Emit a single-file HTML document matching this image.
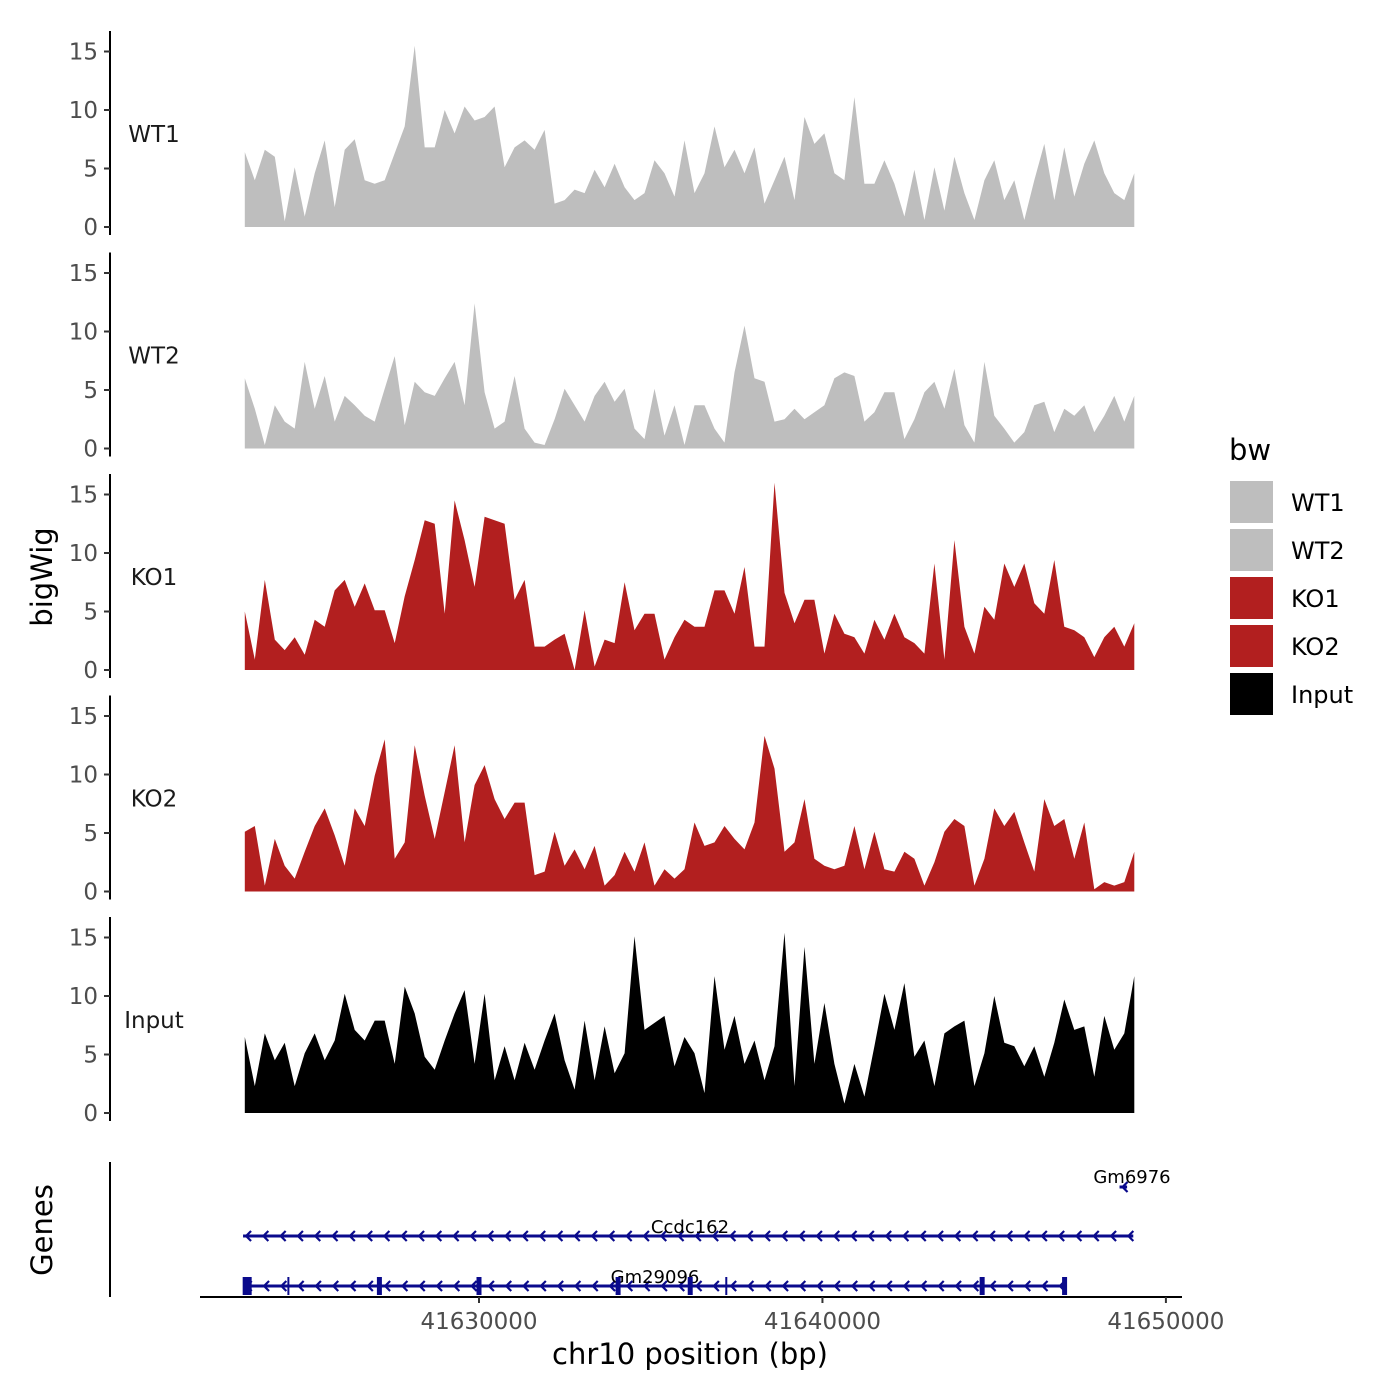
<!DOCTYPE html>
<html><head><meta charset="utf-8"><style>
html,body{margin:0;padding:0;background:#fff;}
svg{display:block;font-family:"DejaVu Sans","Liberation Sans",sans-serif;}
</style></head><body>
<svg id="chart" width="1400" height="1400" viewBox="0 0 1400 1400" xmlns="http://www.w3.org/2000/svg">
<rect width="1400" height="1400" fill="#fff"/>
<g id="tracks"></g>
<g id="genes"></g>
<text transform="translate(52,577) rotate(-90)" text-anchor="middle" font-size="29" fill="#000">bigWig</text>
<text transform="translate(52,1230) rotate(-90)" text-anchor="middle" font-size="29" fill="#000">Genes</text>
<text x="690" y="1364" text-anchor="middle" font-size="29" fill="#000">chr10 position (bp)</text>
<g>
<text x="1229" y="460" font-size="29" fill="#000">bw</text>
<rect x="1230" y="481" width="43" height="42" fill="#bebebe"/>
<text x="1291" y="511" font-size="24">WT1</text>
<rect x="1230" y="529" width="43" height="42" fill="#bebebe"/>
<text x="1291" y="559" font-size="24">WT2</text>
<rect x="1230" y="577" width="43" height="42" fill="#b21f1f"/>
<text x="1291" y="607" font-size="24">KO1</text>
<rect x="1230" y="625" width="43" height="42" fill="#b21f1f"/>
<text x="1291" y="655" font-size="24">KO2</text>
<rect x="1230" y="673" width="43" height="42" fill="#000"/>
<text x="1291" y="703" font-size="24">Input</text>
</g>
</svg>
<script>
const binStart = 41623180;
const binSize = 291;
const trackNames = ["WT1","WT2","KO1","KO2","Input"];
const trackColors = ["#bebebe","#bebebe","#b21f1f","#b21f1f","#000000"];
const yTicks = [0,5,10,15];
const xTicks = [41630000,41640000,41650000];
const wt1 = [6.4,4.0,6.6,6.0,0.5,5.1,0.9,4.6,7.4,1.7,6.6,7.5,4.0,3.7,4.0,6.3,8.6,15.5,6.8,6.8,10,8,10.3,9.1,9.4,10.3,5.1,6.8,7.4,6.6,8.3,2.0,2.3,3.2,2.9,4.9,3.4,5.4,3.4,2.3,2.9,5.7,4.6,2.6,7.4,2.9,4.6,8.6,5.1,6.6,4.6,6.8,2.0,4.0,6.0,2.3,9.4,7.1,8.0,4.6,4.0,11.1,3.7,3.7,5.7,3.7,0.9,4.9,0.6,5.1,1.4,6.0,2.9,0.6,4.0,5.7,2.3,4.0,0.6,4.0,7.1,2.3,6.8,2.6,5.4,7.4,4.6,2.9,2.3,4.6];
const wt2 = [6.0,3.4,0.3,3.7,2.3,1.7,7.4,3.4,6.2,2.3,4.5,3.7,2.8,2.3,5.1,7.9,2.0,5.7,4.8,4.5,6.0,7.4,3.7,12.4,4.8,1.7,2.3,6.2,1.7,0.5,0.3,2.5,5.1,3.7,2.3,4.5,5.7,4.0,5.1,1.7,0.8,5.1,1.1,3.7,0.3,3.7,3.7,1.7,0.5,6.5,10.5,6.0,5.7,2.3,2.5,3.4,2.5,3.1,3.7,6.0,6.5,6.2,2.3,3.1,4.8,4.8,0.8,2.5,4.8,5.7,3.4,6.8,2.0,0.5,7.4,2.8,1.7,0.5,1.4,3.7,4.0,1.4,3.4,2.8,3.7,1.4,2.8,4.5,2.3,4.5];
const ko1 = [5.0,0.9,7.7,2.6,1.7,2.8,1.3,4.3,3.7,6.8,7.7,5.4,7.4,5.1,5.1,2.3,6.3,9.4,12.8,12.5,4.8,14.5,11.1,7.1,13.1,12.8,12.5,6.0,7.7,2.0,2.0,2.6,3.1,0,5.1,0.3,2.6,2.3,7.5,3.4,4.8,4.8,0.9,2.8,4.3,3.7,3.7,6.8,6.8,4.8,8.8,2.0,2.0,16,6.6,4.0,6.0,6.0,1.4,4.8,3.1,2.8,1.4,4.3,2.6,4.8,2.8,2.3,1.4,9.1,0.9,11.1,3.7,1.4,5.4,4.3,9.1,7.1,9.1,5.7,4.8,9.4,3.7,3.4,2.8,1.1,2.8,3.7,2.0,4.0];
const ko2 = [5.1,5.6,0.5,4.5,2.2,1.1,3.4,5.6,7.1,4.8,2.2,7.1,5.6,9.9,13,2.8,4.2,12.5,8.2,4.5,8.5,12.5,4.2,9.1,10.8,7.9,6.2,7.6,7.6,1.4,1.7,5.1,2.2,3.6,1.9,3.9,0.5,1.4,3.4,1.7,4.2,0.5,1.9,1.1,1.9,5.9,3.9,4.2,5.6,4.5,3.6,5.9,13.3,10.5,3.4,4.2,7.9,2.8,2.2,1.9,2.2,5.6,1.9,5.1,1.9,1.7,3.4,2.8,0.5,2.5,5.1,6.2,5.6,0.5,2.8,7.1,5.6,6.8,4.2,1.7,7.9,5.6,6.2,2.8,5.9,0.2,0.8,0.5,0.8,3.4];
const input = [6.5,2.3,6.8,4.5,6.0,2.3,5.1,6.8,4.5,6.2,10.2,7.1,6.2,7.9,7.9,4.2,10.8,8.5,4.8,3.7,6.2,8.5,10.5,4.2,10.2,2.8,5.7,2.8,6.0,3.7,6.2,8.5,4.5,2.0,7.9,2.8,7.4,3.4,5.1,15.1,7.1,7.7,8.3,4.0,6.5,5.1,1.7,11.7,5.4,8.3,4.2,6.2,2.8,5.7,15.4,2.3,14.2,4.2,9.4,4.2,0.8,4.2,1.4,5.7,10.2,7.1,11.1,4.8,6.2,2.3,6.8,7.4,7.9,2.3,5.1,10.0,6.0,5.7,4.0,5.7,3.1,6.0,9.7,7.1,7.4,3.1,8.3,5.4,6.8,11.7];
const geneNames = ["Gm6976","Ccdc162","Gm29096"];
const geneStarts = [41648650,41623130,41623150];
const geneEnds = [41648870,41649050,41647100];
const gm29096Exons = [41623250,41624450,41627100,41630000,41634050,41636150,41637200,41644650,41647050];

const series = [wt1,wt2,ko1,ko2,input];
const NS="http://www.w3.org/2000/svg";
function xScale(bp){return 479+(bp-41630000)*0.034345;}
function baseY(k){return 227+221.5*k;}
function yScale(k,v){return baseY(k)-v*11.7;}
function mk(tag,attrs,parent){const e=document.createElementNS(NS,tag);for(const a in attrs)e.setAttribute(a,attrs[a]);parent.appendChild(e);return e;}
const tracks=document.getElementById('tracks');
series.forEach((vals,k)=>{
  const g=mk('g',{},tracks);
  
  
  let d='M'+xScale(binStart).toFixed(1)+','+baseY(k);
  vals.forEach((v,i)=>{d+=' L'+xScale(binStart+i*binSize).toFixed(1)+','+yScale(k,v).toFixed(1);});
  d+=' L'+xScale(binStart+(vals.length-1)*binSize).toFixed(1)+','+baseY(k)+' Z';
  const p=mk('path',{d:d,fill:trackColors[k]},g);
  
  
  const ax=mk('line',{x1:110,x2:110,y1:baseY(k)-196,y2:baseY(k)+8,stroke:'#000','stroke-width':2},g);
  
  
  yTicks.forEach(t=>{
    const y=yScale(k,t);
    mk('line',{x1:104,x2:110,y1:y,y2:y,stroke:'#333','stroke-width':2},g);
    const tx=mk('text',{x:98,y:y+8,'text-anchor':'end','font-size':23,fill:'#4d4d4d'},g);
    tx.textContent=t;
    
    
  });
  const lab=mk('text',{x:154,y:baseY(k)-85,'text-anchor':'middle','font-size':23,fill:'#1a1a1a'},g);
  lab.textContent=trackNames[k];
  
  
});
const gg=document.getElementById('genes');
const navy='#0a0a8c';
const gax=mk('line',{x1:110,x2:110,y1:1162,y2:1297,stroke:'#000','stroke-width':2},gg);


const xax=mk('line',{x1:200,x2:1182,y1:1297,y2:1297,stroke:'#000','stroke-width':2},gg);


xTicks.forEach(t=>{
  const x=xScale(t);
  mk('line',{x1:x,x2:x,y1:1297,y2:1303,stroke:'#333','stroke-width':2},gg);
  const tx=mk('text',{x:x,y:1329,'text-anchor':'middle','font-size':23,fill:'#4d4d4d'},gg);
  tx.textContent=t;
  
  
});
const geneY=[1187,1236,1286];
const labelY=[1183,1233,1283];
geneNames.forEach((n,i)=>{
  const x1=xScale(geneStarts[i]),x2=xScale(geneEnds[i]),y=geneY[i];
  const g=mk('g',{},gg);
  
  
  mk('line',{x1:x1,x2:x2,y1:y,y2:y,stroke:navy,'stroke-width':3},g);
  for(let x=x1+3;x<x2-4;x+=17.3){
    mk('path',{d:`M${x+5},${y-5} L${x},${y} L${x+5},${y+5}`,stroke:navy,'stroke-width':2.2,fill:'none'},g);
  }
  const t=mk('text',{x:(i===0?1132:(i===1?690:655)),y:labelY[i],'text-anchor':'middle','font-size':18,fill:'#000'},g);
  t.textContent=n;
});
gm29096Exons.forEach((e,j)=>{
  const x=xScale(e);
  const w=(j===0)?9:(j===1||j===6?2:5);
  const r=mk('rect',{x:x-w/2,y:1277,width:w,height:18,fill:navy},gg);
  
  
});
</script>
</body></html>
